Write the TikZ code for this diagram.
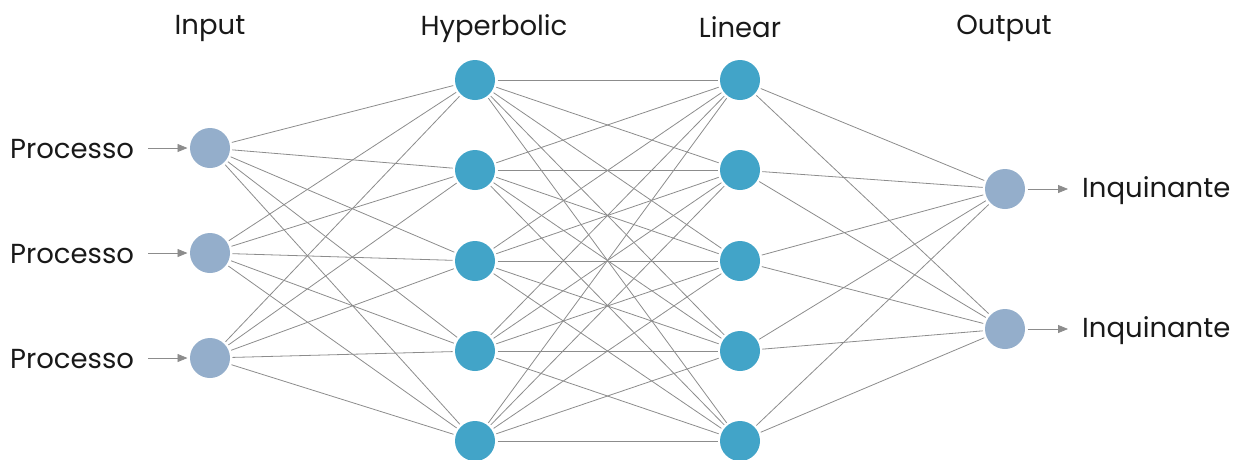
\documentclass[tikz,border=0pt]{standalone}
\usepackage{fontspec}
\setmainfont{Poppins}
\usetikzlibrary{arrows.meta}
\definecolor{inblue}{HTML}{94AECB}
\definecolor{hidblue}{HTML}{42A4C8}
\definecolor{wiregray}{HTML}{8C8C8C}
\begin{document}
\begin{tikzpicture}[x=1pt,y=-1pt,
    neuron/.style={circle,minimum size=40pt,inner sep=0pt,outer sep=2.5pt},
    io/.style={neuron,fill=inblue},
    hid/.style={neuron,fill=hidblue},
    wire/.style={draw=wiregray,line width=0.8pt},
    arr/.style={wire,-{Triangle[length=10pt,width=8pt]}},
    lbl/.style={font=\fontsize{27.5}{32}\selectfont,text=black!90}]
    \useasboundingbox (0,0) rectangle (1241,459);
    % layer titles
    \node[lbl,anchor=base] (tin) at (210,34) {Input};
    \node[lbl,anchor=base] (thyp) at (494,35) {Hyperbolic};
    \node[lbl,anchor=base] (tlin) at (740,37) {Linear};
    \node[lbl,anchor=base] (tout) at (1004,34) {Output};
    % neurons
    \foreach \y [count=\i] in {148,253,358}
      \node[io] (i\i) at (210,\y) {};
    \foreach \y [count=\i] in {80,170,261,351,441} {
      \node[hid] (h\i) at (475,\y) {};
      \node[hid] (l\i) at (740,\y) {};
    }
    \foreach \y [count=\i] in {189,329}
      \node[io] (o\i) at (1005,\y) {};
    % weights
    \foreach \a in {1,...,3}
      \foreach \b in {1,...,5}
        \draw[wire] (i\a) -- (h\b);
    \foreach \a in {1,...,5}
      \foreach \b in {1,...,5}
        \draw[wire] (h\a) -- (l\b);
    \foreach \a in {1,...,5}
      \foreach \b in {1,2}
        \draw[wire] (l\a) -- (o\b);
    % inputs and outputs
    \foreach \i in {1,...,3} {
      \node[lbl,anchor=base west,inner sep=0pt] (p\i) at (10,158+105*\i-105) {Processo};
      \draw[arr] ([xshift=14pt]p\i.east |- i\i.west) -- (i\i.west);
    }
    \foreach \i in {1,2} {
      \node[lbl,anchor=base west,inner sep=0pt] (q\i) at (1082,197+140*\i-140) {Inquinante};
      \draw[arr] (o\i.east) -- ([xshift=-14pt]q\i.west |- o\i.east);
    }
\end{tikzpicture}
\end{document}
